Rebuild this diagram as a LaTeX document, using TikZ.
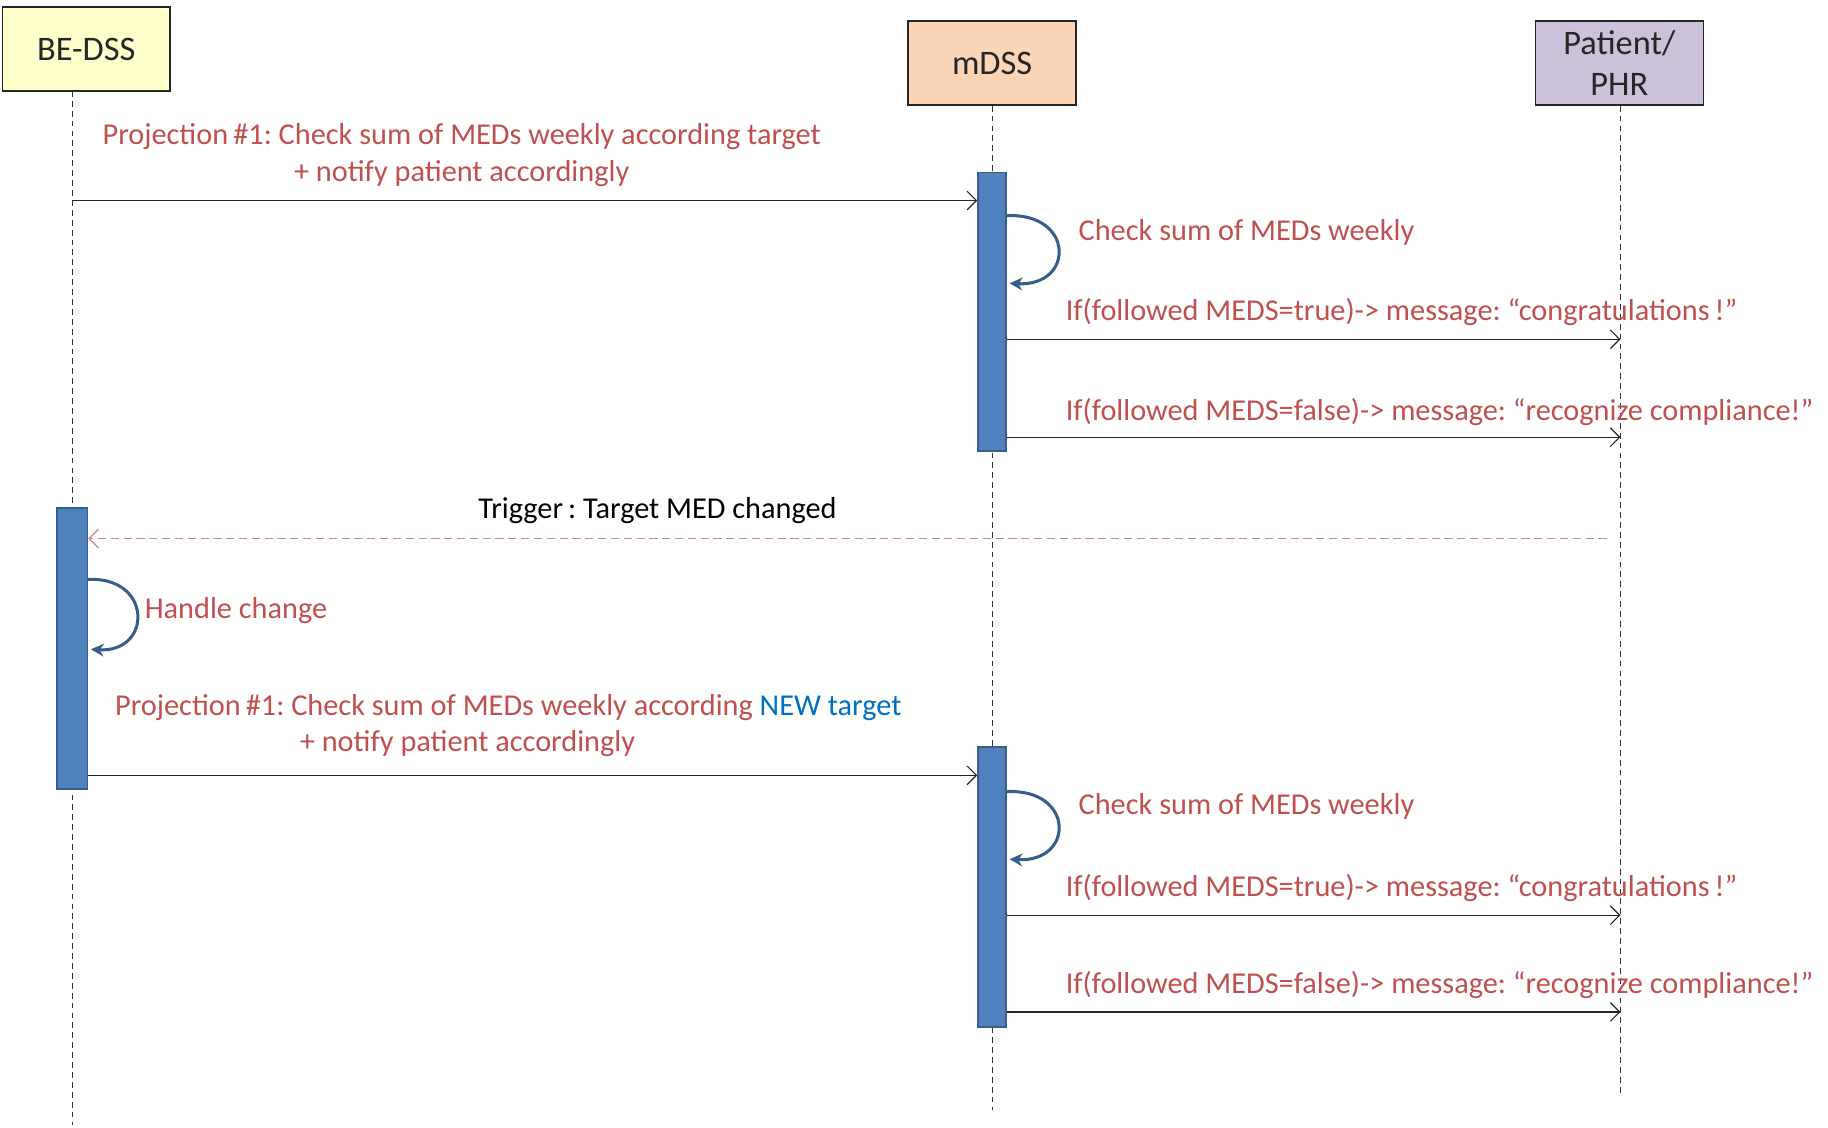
\documentclass[tikz,border=0pt]{standalone}
\usepackage{fontspec}
\setmainfont{Carlito}
\usetikzlibrary{arrows.meta,calc}
\frenchspacing
\definecolor{beyel}{HTML}{FFFFCC}
\definecolor{mdpeach}{HTML}{FBD5B5}
\definecolor{phrlav}{HTML}{CCC1DA}
\definecolor{barfill}{HTML}{4F81BD}
\definecolor{bardraw}{HTML}{385D8A}
\definecolor{msgred}{HTML}{C0504D}
\definecolor{newblue}{HTML}{0070C0}
\definecolor{trigred}{HTML}{D08583}
\tikzset{
  actor/.style={draw=black!85, line width=1.3pt, minimum width=144pt, minimum height=72pt,
    inner sep=0pt, font=\fontsize{29.5}{35}\selectfont, text=black!85, align=center},
  lifeline/.style={draw=black!80, line width=0.9pt, dash pattern=on 5pt off 3.5pt},
  actbar/.style={draw=bardraw, fill=barfill, line width=1.5pt, minimum width=24pt, inner sep=0pt},
  msg/.style={draw=black!85, line width=1pt, -{Straight Barb[length=8pt,width=16pt,line width=1pt]}},
  trigmsg/.style={draw=trigred, line width=1.1pt, dash pattern=on 7pt off 4pt,
    -{Straight Barb[length=8pt,width=16pt,line width=1pt]}},
  selfcall/.style={draw=bardraw, line width=2.6pt, -{Stealth[length=11pt,width=11pt]}},
  lbl/.style={inner sep=0pt, text=msgred, font=\fontsize{26}{31}\selectfont},
}
\begin{document}
\begin{tikzpicture}[x=1pt,y=-1pt]
\useasboundingbox (0,0) rectangle (1568,967);

% actors
\node[actor, fill=beyel]   (be)  at (74,42)   {BE-DSS};
\node[actor, fill=mdpeach] (md)  at (851,54)  {mDSS};
\node[actor, fill=phrlav]  (phr) at (1389,54) {Patient/\\PHR};

% lifelines
\coordinate (beTop)  at (62,78);
\coordinate (beEnd)  at (62,965);
\coordinate (mdEnd)  at (851,952);
\coordinate (phrEnd) at (1390,940);
\draw[lifeline] (beTop) -- (beEnd);
\draw[lifeline] (md.south) -- (mdEnd);
\draw[lifeline] (phr.south -| phrEnd) -- (phrEnd);

% activation bars
\node[actbar, minimum height=239pt] (bar1) at (851,267.5) {};
\node[actbar, minimum width=26pt, minimum height=241pt] (bar2) at (62,556.5) {};
\node[actbar, minimum height=240pt] (bar3) at (851,761) {};

% first projection request
\node[lbl, align=center] (m1) at (396,133)
  {Projection\,\#1: Check sum of MEDs weekly according target\\+ notify patient accordingly};
\coordinate (s1) at (62,172);
\draw[msg] (s1) -- (s1 -| bar1.west);

% weekly check
\draw[selfcall] (863,185) .. controls (922,182) and (922,246) .. (866,243);
\node[lbl, anchor=west] (c1) at (925,199) {Check sum of MEDs weekly};

\node[lbl, anchor=west] (t1) at (914,268) {If(followed MEDS=true)-> message: “congratulations\,!”};
\coordinate (p1) at (1390,291);
\draw[msg] (p1 -| bar1.east) -- (p1);
\node[lbl, anchor=west] (f1) at (914,353) {If(followed MEDS=false)-> message: “recognize compliance!”};
\coordinate (p2) at (1390,375);
\draw[msg] (p2 -| bar1.east) -- (p2);

% trigger
\node[inner sep=0pt, font=\fontsize{26}{31}\selectfont, text=black] (trig) at (564,438) {Trigger\,: Target MED changed};
\coordinate (tr) at (1378,462);
\draw[trigmsg] (tr) -- (tr -| bar2.east);

% handle change
\draw[selfcall] (75,497) .. controls (131,494) and (131,560) .. (78,557);
\node[lbl, anchor=west] (hc) at (124,524) {Handle change};

% second projection request
\node[lbl] (m2a) at (436,607)
  {Projection\,\#1: Check sum of MEDs weekly according \textcolor{newblue}{NEW target}};
\node[lbl] (m2b) at (401,638) {+ notify patient accordingly};
\coordinate (s2) at (62,665);
\draw[msg] (s2 -| bar2.east) -- (s2 -| bar3.west);

% weekly check, new target
\draw[selfcall] (863,679) .. controls (922,676) and (922,740) .. (866,737);
\node[lbl, anchor=west] (c2) at (925,692) {Check sum of MEDs weekly};

\node[lbl, anchor=west] (t2) at (914,762) {If(followed MEDS=true)-> message: “congratulations\,!”};
\coordinate (p3) at (1390,785);
\draw[msg] (p3 -| bar3.east) -- (p3);
\node[lbl, anchor=west] (f2) at (914,845) {If(followed MEDS=false)-> message: “recognize compliance!”};
\coordinate (p4) at (1390,868);
\draw[msg] (p4 -| bar3.east) -- (p4);
\end{tikzpicture}
\end{document}
